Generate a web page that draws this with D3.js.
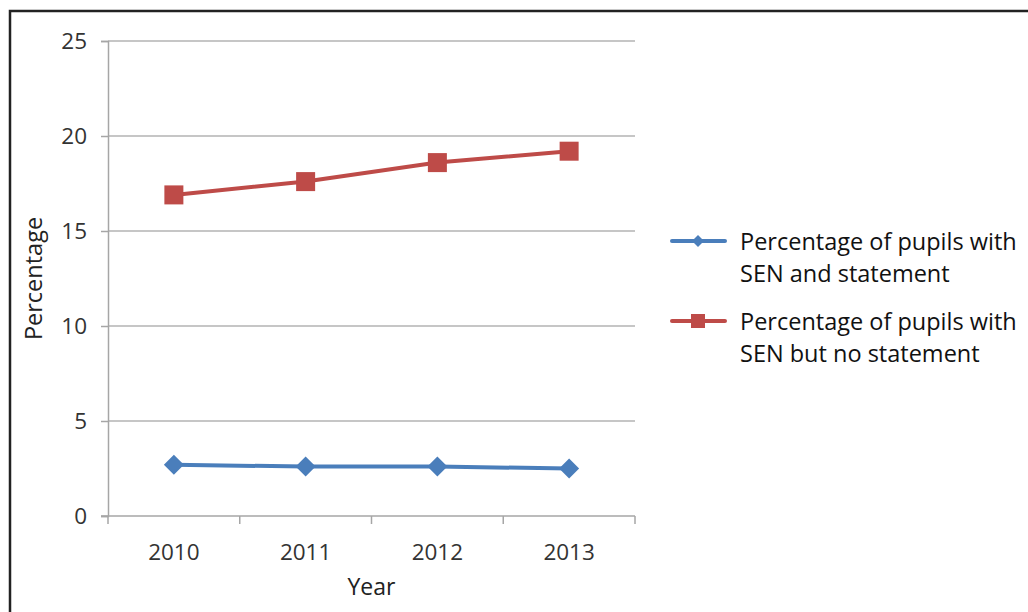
<!DOCTYPE html>
<html>
<head>
<meta charset="utf-8">
<script src="https://cdn.jsdelivr.net/npm/d3@7"></script>
<style>
  body { margin: 0; background: #fff; }
  svg { display: block; font-family: "Open Sans", "Noto Sans", sans-serif; }
</style>
</head>
<body>
<div id="chart"></div>
<script>
const years = ["2010", "2011", "2012", "2013"];
const withStatement = [2.7, 2.6, 2.6, 2.5];
const noStatement = [16.9, 17.6, 18.6, 19.2];
const yTicks = [0, 5, 10, 15, 20, 25];
const seriesNames = [
  ["Percentage of pupils with", "SEN and statement"],
  ["Percentage of pupils with", "SEN but no statement"]
];

const width = 1028, height = 612;
const margin = { top: 41, right: 393, bottom: 96, left: 108 };

const svg = d3.select("#chart").append("svg")
  .attr("width", width)
  .attr("height", height);

// outer frame (runs off right and bottom)
svg.append("rect")
  .attr("x", 10).attr("y", 11)
  .attr("width", width + 20).attr("height", height + 20)
  .attr("fill", "none")
  .attr("stroke", "#222")
  .attr("stroke-width", 2.5);

const x = d3.scaleBand()
  .domain(years)
  .range([margin.left, width - margin.right]);

const y = d3.scaleLinear()
  .domain([0, 25])
  .range([height - margin.bottom, margin.top]);

// gridlines
svg.append("g")
  .selectAll("line")
  .data(yTicks.filter(d => d > 0))
  .join("line")
  .attr("x1", margin.left)
  .attr("x2", width - margin.right)
  .attr("y1", d => y(d))
  .attr("y2", d => y(d))
  .attr("stroke", "#b3b3b3")
  .attr("stroke-width", 1.5);

// Y axis
const yAxis = svg.append("g")
  .attr("transform", `translate(${margin.left},0)`)
  .call(d3.axisLeft(y).tickValues(yTicks).tickSize(7).tickPadding(14));
yAxis.select(".domain").attr("stroke", "#a6a6a6").attr("stroke-width", 1.5);
yAxis.selectAll(".tick line").attr("stroke", "#a6a6a6").attr("stroke-width", 1.5);
yAxis.selectAll(".tick text").attr("font-size", 22.5).attr("fill", "#333")
  .attr("font-family", "'Open Sans', sans-serif");

// X axis
const bounds = years.map(d => x(d)).concat([x(years[years.length - 1]) + x.bandwidth()]);
const xAxisG = svg.append("g");
xAxisG.append("line")
  .attr("x1", margin.left - 7)
  .attr("x2", width - margin.right)
  .attr("y1", y(0)).attr("y2", y(0))
  .attr("stroke", "#a6a6a6").attr("stroke-width", 1.5);
xAxisG.selectAll(".xtick")
  .data(bounds)
  .join("line")
  .attr("class", "xtick")
  .attr("x1", d => d).attr("x2", d => d)
  .attr("y1", y(0)).attr("y2", y(0) + 8)
  .attr("stroke", "#a6a6a6").attr("stroke-width", 1.5);
xAxisG.selectAll(".xlabel")
  .data(years)
  .join("text")
  .attr("class", "xlabel")
  .attr("x", d => x(d) + x.bandwidth() / 2)
  .attr("y", y(0) + 44)
  .attr("text-anchor", "middle")
  .attr("font-size", 22.5)
  .attr("fill", "#333")
  .text(d => d);

// axis titles
svg.append("text")
  .attr("x", x(years[0]) + (bounds[bounds.length - 1] - bounds[0]) / 2)
  .attr("y", 595)
  .attr("text-anchor", "middle")
  .attr("font-size", 23)
  .attr("fill", "#222")
  .text("Year");

svg.append("text")
  .attr("transform", `translate(42,${(y(0) + y(25)) / 2}) rotate(-90)`)
  .attr("text-anchor", "middle")
  .attr("font-size", 23.5)
  .attr("fill", "#222")
  .text("Percentage");

const blue = "#4a7ebb", red = "#be4b48";
const cx = d => x(d) + x.bandwidth() / 2;

const line = d3.line().x(d => cx(d.year)).y(d => y(d.value));

const blueData = years.map((yr, i) => ({ year: yr, value: withStatement[i] }));
const redData = years.map((yr, i) => ({ year: yr, value: noStatement[i] }));

svg.append("path").datum(blueData)
  .attr("fill", "none").attr("stroke", blue).attr("stroke-width", 4)
  .attr("d", line);
svg.append("path").datum(redData)
  .attr("fill", "none").attr("stroke", red).attr("stroke-width", 4)
  .attr("d", line);

const diamond = s => `M0,${-s}L${s},0L0,${s}L${-s},0Z`;

svg.selectAll(".diamond")
  .data(blueData)
  .join("path")
  .attr("class", "diamond")
  .attr("transform", d => `translate(${cx(d.year)},${y(d.value)})`)
  .attr("d", diamond(10))
  .attr("fill", blue);

svg.selectAll(".square")
  .data(redData)
  .join("rect")
  .attr("class", "square")
  .attr("x", d => cx(d.year) - 9.5)
  .attr("y", d => y(d.value) - 9.5)
  .attr("width", 19).attr("height", 19)
  .attr("fill", red);

// legend
const legend = svg.append("g");
const legendY = [241, 321];
[blue, red].forEach((c, i) => {
  const g = legend.append("g").attr("transform", `translate(0,${legendY[i]})`);
  g.append("line")
    .attr("x1", 672).attr("x2", 725)
    .attr("stroke", c).attr("stroke-width", 4).attr("stroke-linecap", "round");
  if (i === 0) {
    g.append("path").attr("transform", "translate(698,0)").attr("d", diamond(6)).attr("fill", c);
  } else {
    g.append("rect").attr("x", 691).attr("y", -7).attr("width", 14).attr("height", 14).attr("fill", c);
  }
  seriesNames[i].forEach((t, j) => {
    g.append("text")
      .attr("x", 740)
      .attr("y", 9 + j * 32)
      .attr("font-size", 23.5)
      .attr("fill", "#111")
      .text(t);
  });
});
</script>
</body>
</html>
